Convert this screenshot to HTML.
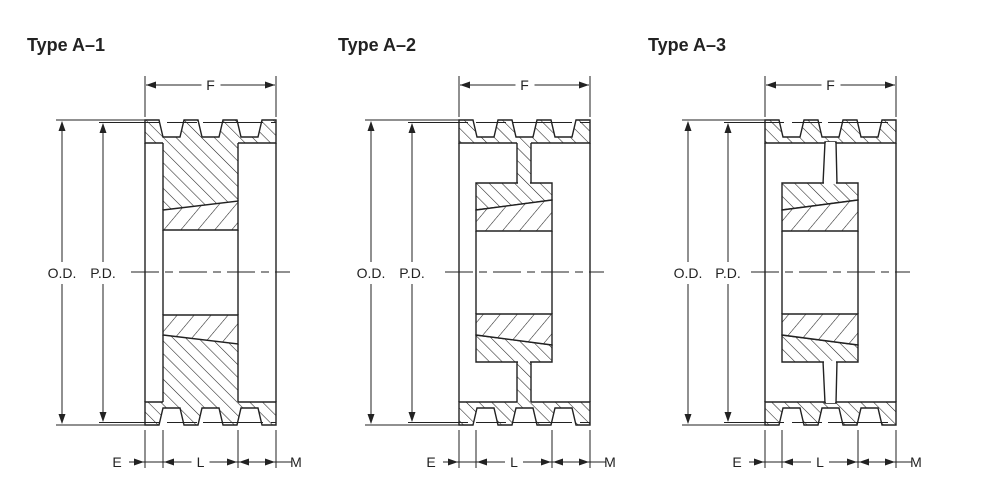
<!DOCTYPE html>
<html><head><meta charset="utf-8"><style>
html,body{margin:0;padding:0;background:#fff;}
svg{display:block;}
text{font-family:"Liberation Sans",sans-serif;fill:#222;}
</style></head><body>
<svg id="s" width="983" height="490" viewBox="0 0 983 490" xmlns="http://www.w3.org/2000/svg">
<defs>
<pattern id="hf" patternUnits="userSpaceOnUse" width="9" height="9" patternTransform="rotate(-45)"><rect width="9" height="9" fill="#fff"/><line x1="0" y1="0" x2="0" y2="9" stroke="#222" stroke-width="1.1"/></pattern>
<pattern id="bb" patternUnits="userSpaceOnUse" width="13" height="13" patternTransform="rotate(40)"><rect width="13" height="13" fill="#fff"/><line x1="0" y1="0" x2="0" y2="13" stroke="#222" stroke-width="1.1"/></pattern>
</defs>
<text x="27" y="51" font-size="18" font-weight="bold">Type A–1</text>
<text x="338" y="51" font-size="18" font-weight="bold">Type A–2</text>
<text x="648" y="51" font-size="18" font-weight="bold">Type A–3</text>
</svg>
<script>
var s=document.getElementById('s'),o='';
var M=545;
function P(pts,top,fill,stroke){
  var p=pts.map(function(q){return q[0]+','+(top?q[1]:M-q[1]);}).join(' ');
  o+='<polygon points="'+p+'" fill="'+fill+'" stroke="'+(stroke?'#222':'none')+'" stroke-width="1.4"/>';
}
function L(x1,y1,x2,y2,w,d){o+='<line x1="'+x1+'" y1="'+y1+'" x2="'+x2+'" y2="'+y2+'" stroke="#222" stroke-width="'+(w||1.4)+'"'+(d?' stroke-dasharray="'+d+'"':'')+'/>';}
function AR(x,y,dir){
  var a=10,b=3.5,p;
  if(dir=='r')p=[[x,y],[x-a,y-b],[x-a,y+b]];
  if(dir=='l')p=[[x,y],[x+a,y-b],[x+a,y+b]];
  if(dir=='u')p=[[x,y],[x-b,y+a],[x+b,y+a]];
  if(dir=='d')p=[[x,y],[x-b,y-a],[x+b,y-a]];
  o+='<polygon points="'+p.map(function(q){return q.join(',')}).join(' ')+'" fill="#222"/>';
}
function T(x,y,t,sz){o+='<text x="'+x+'" y="'+y+'" font-size="'+(sz||14)+'" text-anchor="middle">'+t+'</text>';}
function type(x0,kind,xod,xpd){
  var W=131,hl=x0+(kind==1?18:17),hr=x0+93;
  for(var half=0;half<2;half++){
    var top=half==0, hm='hf', bm='bb';
    var r=[[x0,120],[x0+14,120],[x0+18,137],[x0+35,137],[x0+39,120],[x0+53,120],[x0+57,137],[x0+74,137],[x0+78,120],[x0+92,120],[x0+96,137],[x0+113,137],[x0+117,120],[x0+W,120],[x0+W,143],[x0,143]];
    P(r,top,'url(#'+hm+')',true);
    if(kind==1){
      P([[hl,140],[hr,140],[hr,201],[hl,210]],top,'url(#'+hm+')',false);
      P([[hl,210],[hr,201],[hr,230],[hl,230]],top,'url(#'+bm+')',true);
      P([[hl,143],[hl,210]],top,'none',true);P([[hr,143],[hr,201]],top,'none',true);
    } else {
      if(kind==2){
        P([[x0+58,141],[x0+72,141],[x0+72,185],[x0+58,185]],top,'url(#'+hm+')',false);
        P([[x0+58,143],[x0+58,183]],top,'none',true);P([[x0+72,143],[x0+72,183]],top,'none',true);
      } else {
        P([[x0+60,142],[x0+71,142],[x0+72,184],[x0+58,184]],top,'#fff',true);
        var yy=top?143:M-143; o+='<line x1="'+(x0+61)+'" y1="'+yy+'" x2="'+(x0+70)+'" y2="'+yy+'" stroke="#fff" stroke-width="2"/>';
      }
      P([[hl,183],[hr,183],[hr,200],[hl,210]],top,'url(#'+hm+')',true);
      P([[hl,210],[hr,200],[hr,231],[hl,231]],top,'url(#'+bm+')',true);
      if(kind==2){var y2=top?183:M-183;o+='<line x1="'+(x0+59)+'" y1="'+y2+'" x2="'+(x0+71)+'" y2="'+y2+'" stroke="url(#'+hm+')" stroke-width="3"/>';}
      if(kind==3){var y3=top?183:M-183;o+='<line x1="'+(x0+59)+'" y1="'+y3+'" x2="'+(x0+71)+'" y2="'+y3+'" stroke="#fff" stroke-width="2.4"/>';}
    }
  }
  L(x0,143,x0,M-143);L(x0+W,143,x0+W,M-143);
  var by=kind==1?230:231;
  L(hl,by,hl,M-by);L(hr,by,hr,M-by);
  L(x0-14,272,x0+W+14,272,1,'28,6,8,6');
  L(xod-6,120,x0,120,1);L(xpd-4,122.5,x0+W,122.5,1,'60,8,30,6');
  L(xod-6,425,x0,425,1);L(xpd-4,422.5,x0+W,422.5,1,'60,8,30,6');
  L(xod,122,xod,262,1);L(xod,284,xod,423,1);AR(xod,121,'u');AR(xod,424,'d');
  L(xpd,124,xpd,262,1);L(xpd,284,xpd,421,1);AR(xpd,123,'u');AR(xpd,422,'d');
  T(xod,278,'O.D.');T(xpd,278,'P.D.');
  L(x0,76,x0,117,1);L(x0+W,76,x0+W,117,1);
  var cx=x0+W/2;
  L(x0+1,85,cx-9,85,1);L(cx+10,85,x0+W-1,85,1);AR(x0+1,85,'l');AR(x0+W-1,85,'r');
  T(cx,90,'F');
  [x0,hl,hr,x0+W].forEach(function(x){L(x,430,x,468,1);});
  L(x0-16,462,x0+W+16,462,1);
  AR(x0-1,462,'r');AR(hl+1,462,'l');AR(hr-1,462,'r');AR(hr+1,462,'l');AR(x0+W-1,462,'r');
  var lc=(hl+hr)/2;
  o+='<rect x="'+(lc-9)+'" y="455" width="18" height="14" fill="#fff"/>';
  o+='<rect x="'+(x0-38)+'" y="455" width="20" height="14" fill="#fff"/>';
  T(lc,467,'L');T(x0-28,467,'E');T(x0+W+20,467,'M');
}
type(145,1,62,103);
type(459,2,371,412);
type(765,3,688,728);
s.insertAdjacentHTML('beforeend',o);
</script>
</body></html>
